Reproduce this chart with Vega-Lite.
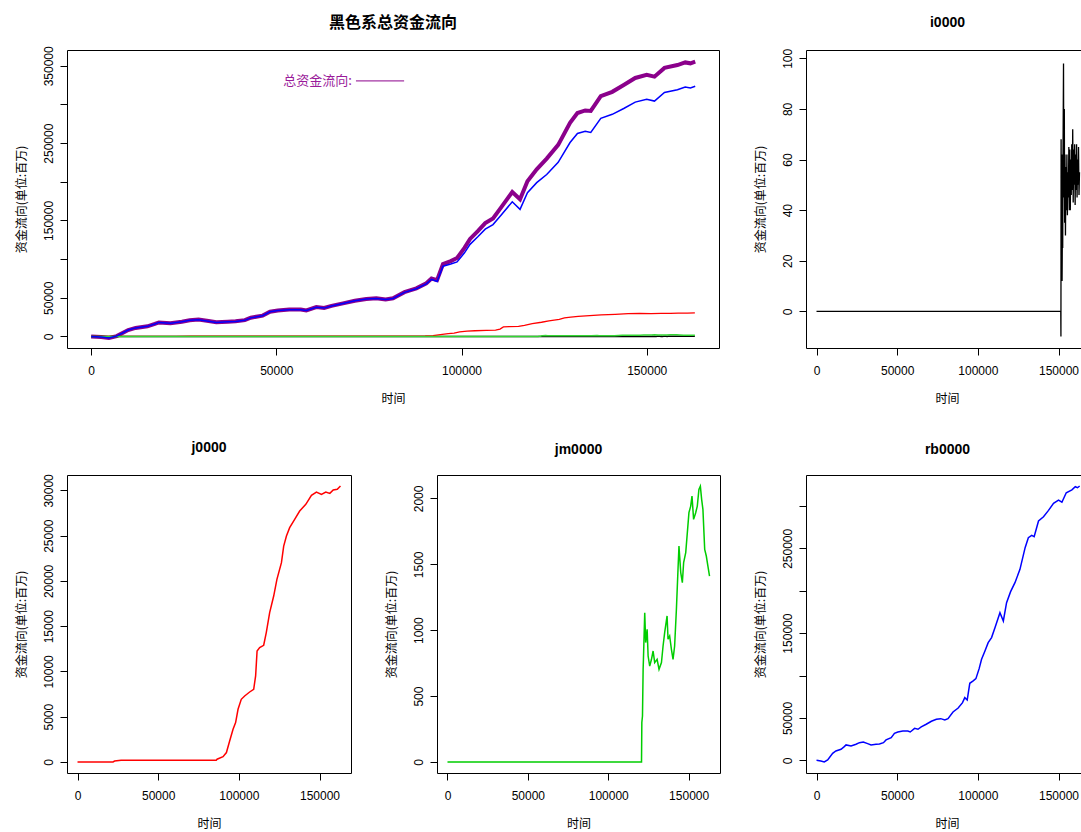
{
  "$schema": "https://vega.github.io/schema/vega-lite/v6.json",
  "background": "white",
  "padding": {"left": 14, "top": 14, "right": 0, "bottom": 0},
  "spacing": 35,
  "datasets": {
    "rb": [
      {"t":0,"v":0},{"t":2700,"v":-800},{"t":4800,"v":-2000},{"t":6900,"v":400},{"t":10000,"v":8250},{"t":12000,"v":11000},{"t":15200,"v":13000},{"t":17200,"v":16100},{"t":18300,"v":18100},{"t":21400,"v":16900},{"t":24500,"v":18900},{"t":26600,"v":20800},{"t":29000,"v":21600},{"t":31700,"v":19700},{"t":33800,"v":18100},{"t":36900,"v":18900},{"t":39000,"v":19300},{"t":41500,"v":20800},{"t":43100,"v":24000},{"t":46300,"v":26700},{"t":48300,"v":31800},{"t":50400,"v":33400},{"t":53500,"v":34600},{"t":56600,"v":34600},{"t":58100,"v":33400},{"t":60800,"v":37700},{"t":62900,"v":36600},{"t":64900,"v":39300},{"t":68000,"v":42500},{"t":71200,"v":46000},{"t":74300,"v":48300},{"t":77000,"v":49100},{"t":79500,"v":47600},{"t":81500,"v":49100},{"t":84600,"v":57000},{"t":87800,"v":61700},{"t":90500,"v":68000},{"t":91900,"v":73900},{"t":93400,"v":71100},{"t":95000,"v":90800},{"t":97100,"v":93600},{"t":98800,"v":96300},{"t":100800,"v":108100},{"t":102300,"v":119100},{"t":104400,"v":128900},{"t":106400,"v":138800},{"t":108500,"v":144700},{"t":110600,"v":156400},{"t":113700,"v":174100},{"t":115800,"v":164300},{"t":117800,"v":185900},{"t":120300,"v":198900},{"t":123000,"v":209500},{"t":126100,"v":225200},{"t":129300,"v":250800},{"t":131300,"v":262600},{"t":133400,"v":265300},{"t":134900,"v":263800},{"t":137600,"v":282200},{"t":140700,"v":287300},{"t":143800,"v":294800},{"t":146900,"v":303100},{"t":150000,"v":306800},{"t":152100,"v":304400},{"t":154800,"v":315600},{"t":158300,"v":319000},{"t":160400,"v":322700},{"t":161800,"v":321500},{"t":163100,"v":323500}
    ],
    "total": [
      {"t":0,"v":0},{"t":2700,"v":-800},{"t":4800,"v":-2000},{"t":6900,"v":400},{"t":10000,"v":8250},{"t":12000,"v":11000},{"t":15200,"v":13000},{"t":17200,"v":16100},{"t":18300,"v":18100},{"t":21400,"v":16900},{"t":24500,"v":19050},{"t":26600,"v":20980},{"t":29000,"v":21800},{"t":31700,"v":19900},{"t":33800,"v":18300},{"t":36900,"v":19100},{"t":39000,"v":19500},{"t":41500,"v":21000},{"t":43100,"v":24200},{"t":46300,"v":26900},{"t":48300,"v":32000},{"t":50400,"v":33600},{"t":53500,"v":34800},{"t":56600,"v":34800},{"t":58100,"v":33600},{"t":60800,"v":37900},{"t":62900,"v":36800},{"t":64900,"v":39500},{"t":68000,"v":42700},{"t":71200,"v":46200},{"t":74300,"v":48500},{"t":77000,"v":49300},{"t":79500,"v":47800},{"t":81500,"v":49300},{"t":84600,"v":57200},{"t":87800,"v":62100},{"t":90500,"v":68650},{"t":91900,"v":74850},{"t":93400,"v":72800},{"t":95000,"v":93500},{"t":97100,"v":97400},{"t":98800,"v":101400},{"t":100800,"v":114600},{"t":102300,"v":126100},{"t":104400,"v":136250},{"t":106400,"v":146500},{"t":108500,"v":152650},{"t":110600,"v":166200},{"t":113700,"v":186800},{"t":115800,"v":177400},{"t":117800,"v":200800},{"t":120300,"v":216200},{"t":123000,"v":230000},{"t":126100,"v":247800},{"t":129300,"v":276200},{"t":131300,"v":289000},{"t":133400,"v":292350},{"t":134900,"v":291650},{"t":137600,"v":310850},{"t":140700,"v":316400},{"t":143800,"v":325300},{"t":146900,"v":334350},{"t":150000,"v":338350},{"t":152100,"v":336000},{"t":154800,"v":347350},{"t":158300,"v":351050},{"t":160400,"v":354450},{"t":161800,"v":353250},{"t":163100,"v":355450}
    ],
    "j": [
      {"t":0,"v":0},{"t":22000,"v":0},{"t":23000,"v":100},{"t":27000,"v":200},{"t":86000,"v":200},{"t":86500,"v":300},{"t":90200,"v":590},{"t":92300,"v":1040},{"t":94300,"v":2320},{"t":96400,"v":3610},{"t":98000,"v":4350},{"t":99500,"v":5820},{"t":101500,"v":6920},{"t":103600,"v":7290},{"t":106700,"v":7730},{"t":109200,"v":8030},{"t":110400,"v":9500},{"t":111300,"v":12260},{"t":112900,"v":12630},{"t":115400,"v":12890},{"t":117000,"v":14290},{"t":119100,"v":16500},{"t":121600,"v":18330},{"t":123600,"v":20170},{"t":126400,"v":22020},{"t":127800,"v":23850},{"t":129500,"v":24960},{"t":131500,"v":25880},{"t":134600,"v":26800},{"t":137700,"v":27720},{"t":141500,"v":28460},{"t":145000,"v":29450},{"t":148100,"v":29820},{"t":151200,"v":29560},{"t":153900,"v":29820},{"t":156400,"v":29670},{"t":158500,"v":30040},{"t":161000,"v":30120},{"t":163000,"v":30480}
    ],
    "jm": [
      {"t":0,"v":0},{"t":120700,"v":0},{"t":120900,"v":299},{"t":121300,"v":349},{"t":121700,"v":703},{"t":121900,"v":779},{"t":122700,"v":1133},{"t":123300,"v":906},{"t":124200,"v":1007},{"t":124800,"v":804},{"t":125800,"v":728},{"t":126900,"v":779},{"t":127900,"v":842},{"t":128900,"v":754},{"t":130400,"v":779},{"t":131600,"v":703},{"t":133100,"v":754},{"t":134100,"v":880},{"t":135100,"v":982},{"t":136600,"v":1108},{"t":137200,"v":931},{"t":138200,"v":956},{"t":139300,"v":855},{"t":140300,"v":779},{"t":141300,"v":880},{"t":142400,"v":1159},{"t":143400,"v":1462},{"t":144000,"v":1639},{"t":145100,"v":1437},{"t":146100,"v":1361},{"t":146900,"v":1513},{"t":148200,"v":1589},{"t":149200,"v":1741},{"t":150200,"v":1892},{"t":151300,"v":1942},{"t":152100,"v":2018},{"t":153100,"v":1841},{"t":154400,"v":1892},{"t":155400,"v":1942},{"t":156400,"v":2069},{"t":157300,"v":2094},{"t":158100,"v":1993},{"t":158900,"v":1917},{"t":160000,"v":1614},{"t":161000,"v":1563},{"t":162000,"v":1487},{"t":163000,"v":1411}
    ],
    "i": [
      {"t":0,"v":0},{"t":151400,"v":0},{"t":151500,"v":-10},{"t":151600,"v":68},{"t":151800,"v":27},{"t":152000,"v":62},{"t":152200,"v":12},{"t":152400,"v":32},{"t":152600,"v":25},{"t":152800,"v":63},{"t":153100,"v":98},{"t":153300,"v":45},{"t":153600,"v":80},{"t":153800,"v":35},{"t":154000,"v":62},{"t":154300,"v":30},{"t":154600,"v":57},{"t":154900,"v":40},{"t":155200,"v":62},{"t":155500,"v":38},{"t":155800,"v":55},{"t":156100,"v":45},{"t":156400,"v":65},{"t":156700,"v":40},{"t":157000,"v":64},{"t":157300,"v":40},{"t":157600,"v":60},{"t":157900,"v":46},{"t":158200,"v":66},{"t":158500,"v":48},{"t":158800,"v":72},{"t":159100,"v":43},{"t":159400,"v":64},{"t":159700,"v":50},{"t":160000,"v":66},{"t":160300,"v":42},{"t":160600,"v":62},{"t":160900,"v":48},{"t":161200,"v":66},{"t":161500,"v":45},{"t":161800,"v":60},{"t":162100,"v":50},{"t":162400,"v":65},{"t":162700,"v":46},{"t":163000,"v":55}
    ],
    "legend": [
      {"label": "总资金流向:"}
    ]
  },
  "vconcat": [
    {
      "bounds": "flush",
      "spacing": 87,
      "hconcat": [
        {
          "width": 652, "height": 298,
          "title": {"text": "黑色系总资金流向", "font": "Noto Sans CJK SC", "fontSize": 16, "offset": 15},
          "layer": [
            {"data": {"name": "total"}, "mark": {"type": "line", "color": "#8B008B", "strokeWidth": 4, "clip": true},
             "encoding": {
               "x": {"field": "t", "type": "quantitative", "title": "时间", "scale": {"domain": [-6520, 169520], "nice": false, "zero": false}, "axis": {"values": [0, 50000, 100000, 150000], "format": "d"}},
               "y": {"field": "v", "type": "quantitative", "title": "资金流向(单位:百万)", "scale": {"domain": [-15000, 370500], "nice": false, "zero": false}, "axis": {"values": [0, 50000, 100000, 150000, 200000, 250000, 300000, 350000], "format": "d", "labelExpr": "datum.value == 100000 || datum.value == 200000 || datum.value == 300000 ? '' : datum.label"}}
             }},
            {"data": {"name": "i"}, "mark": {"type": "line", "color": "black", "strokeWidth": 1.5, "clip": true},
             "encoding": {"x": {"field": "t", "type": "quantitative", "title": "时间"}, "y": {"field": "v", "type": "quantitative", "title": "资金流向(单位:百万)"}}},
            {"data": {"name": "j"}, "mark": {"type": "line", "color": "#FF0000", "strokeWidth": 1.3, "clip": true},
             "encoding": {"x": {"field": "t", "type": "quantitative", "title": "时间"}, "y": {"field": "v", "type": "quantitative", "title": "资金流向(单位:百万)"}}},
            {"data": {"name": "jm"}, "mark": {"type": "line", "color": "#33D633", "strokeWidth": 1.5, "clip": true},
             "encoding": {"x": {"field": "t", "type": "quantitative", "title": "时间"}, "y": {"field": "v", "type": "quantitative", "title": "资金流向(单位:百万)"}}},
            {"data": {"name": "rb"}, "mark": {"type": "line", "color": "#0000FF", "strokeWidth": 1.5, "clip": true},
             "encoding": {"x": {"field": "t", "type": "quantitative", "title": "时间"}, "y": {"field": "v", "type": "quantitative", "title": "资金流向(单位:百万)"}}},
            {"data": {"name": "legend"}, "mark": {"type": "text", "align": "right", "baseline": "middle", "font": "Noto Sans CJK SC", "fontSize": 13, "color": "#9A1A9A"},
             "encoding": {"x": {"datum": 70400, "type": "quantitative"}, "y": {"datum": 330500, "type": "quantitative"}, "text": {"field": "label"}}},
            {"data": {"name": "legend"}, "mark": {"type": "rule", "color": "#8B008B", "strokeWidth": 1},
             "encoding": {"x": {"datum": 71500, "type": "quantitative"}, "x2": {"datum": 84500}, "y": {"datum": 330500, "type": "quantitative"}}}
          ]
        },
        {
          "width": 275, "height": 298,
          "title": {"text": "i0000", "dx": 4},
          "data": {"name": "i"},
          "mark": {"type": "line", "color": "black", "strokeWidth": 1.3, "clip": true},
          "encoding": {
            "x": {"field": "t", "type": "quantitative", "title": "时间", "scale": {"domain": [-6520, 163937], "nice": false, "zero": false}, "axis": {"values": [0, 50000, 100000, 150000], "format": "d", "titleX": 141}},
            "y": {"field": "v", "type": "quantitative", "title": "资金流向(单位:百万)", "scale": {"domain": [-14.5, 103.3], "nice": false, "zero": false}, "axis": {"values": [0, 20, 40, 60, 80, 100], "format": "d"}}
          }
        }
      ]
    },
    {
      "bounds": "flush",
      "spacing": 86,
      "hconcat": [
        {
          "width": 284, "height": 298,
          "title": "j0000",
          "data": {"name": "j"},
          "mark": {"type": "line", "color": "#FF0000", "strokeWidth": 1.5, "clip": true},
          "encoding": {
            "x": {"field": "t", "type": "quantitative", "title": "时间", "scale": {"domain": [-6520, 169520], "nice": false, "zero": false}, "axis": {"values": [0, 50000, 100000, 150000], "format": "d"}},
            "y": {"field": "v", "type": "quantitative", "title": "资金流向(单位:百万)", "scale": {"domain": [-1220, 31700], "nice": false, "zero": false}, "axis": {"values": [0, 5000, 10000, 15000, 20000, 25000, 30000], "format": "d"}}
          }
        },
        {
          "width": 283, "height": 298,
          "title": "jm0000",
          "data": {"name": "jm"},
          "mark": {"type": "line", "color": "#00CD00", "strokeWidth": 1.5, "clip": true},
          "encoding": {
            "x": {"field": "t", "type": "quantitative", "title": "时间", "scale": {"domain": [-6520, 169520], "nice": false, "zero": false}, "axis": {"values": [0, 50000, 100000, 150000], "format": "d"}},
            "y": {"field": "v", "type": "quantitative", "title": "资金流向(单位:百万)", "scale": {"domain": [-84, 2178], "nice": false, "zero": false}, "axis": {"values": [0, 500, 1000, 1500, 2000], "format": "d"}}
          }
        },
        {
          "width": 275, "height": 298,
          "title": {"text": "rb0000", "dx": 4},
          "data": {"name": "rb"},
          "mark": {"type": "line", "color": "#0000FF", "strokeWidth": 1.5, "clip": true},
          "encoding": {
            "x": {"field": "t", "type": "quantitative", "title": "时间", "scale": {"domain": [-6520, 163937], "nice": false, "zero": false}, "axis": {"values": [0, 50000, 100000, 150000], "format": "d", "titleX": 141}},
            "y": {"field": "v", "type": "quantitative", "title": "资金流向(单位:百万)", "scale": {"domain": [-15000, 336500], "nice": false, "zero": false}, "axis": {"values": [0, 50000, 100000, 150000, 200000, 250000, 300000], "format": "d", "labelExpr": "datum.value == 100000 || datum.value == 200000 || datum.value == 300000 ? '' : datum.label"}}
          }
        }
      ]
    }
  ],
  "config": {
    "view": {"stroke": "black", "strokeWidth": 1},
    "axis": {
      "domain": false, "grid": false,
      "ticks": true, "tickColor": "black", "tickSize": 7, "tickWidth": 1,
      "labelFont": "Liberation Sans", "labelFontSize": 12, "labelColor": "black",
      "labelFlush": false, "labelOverlap": false,
      "titleFont": "Noto Sans CJK SC", "titleFontSize": 12, "titleFontWeight": "normal", "titleColor": "black"
    },
    "axisX": {"labelPadding": 10, "titlePadding": 17, "minExtent": 28, "maxExtent": 28},
    "axisY": {"labelAngle": -90, "labelAlign": "center", "labelBaseline": "bottom", "labelPadding": 5, "titlePadding": 15, "minExtent": 24, "maxExtent": 24},
    "title": {"font": "Liberation Sans", "fontSize": 14, "fontWeight": "bold", "color": "black", "offset": 18.5, "anchor": "middle"}
  }
}
